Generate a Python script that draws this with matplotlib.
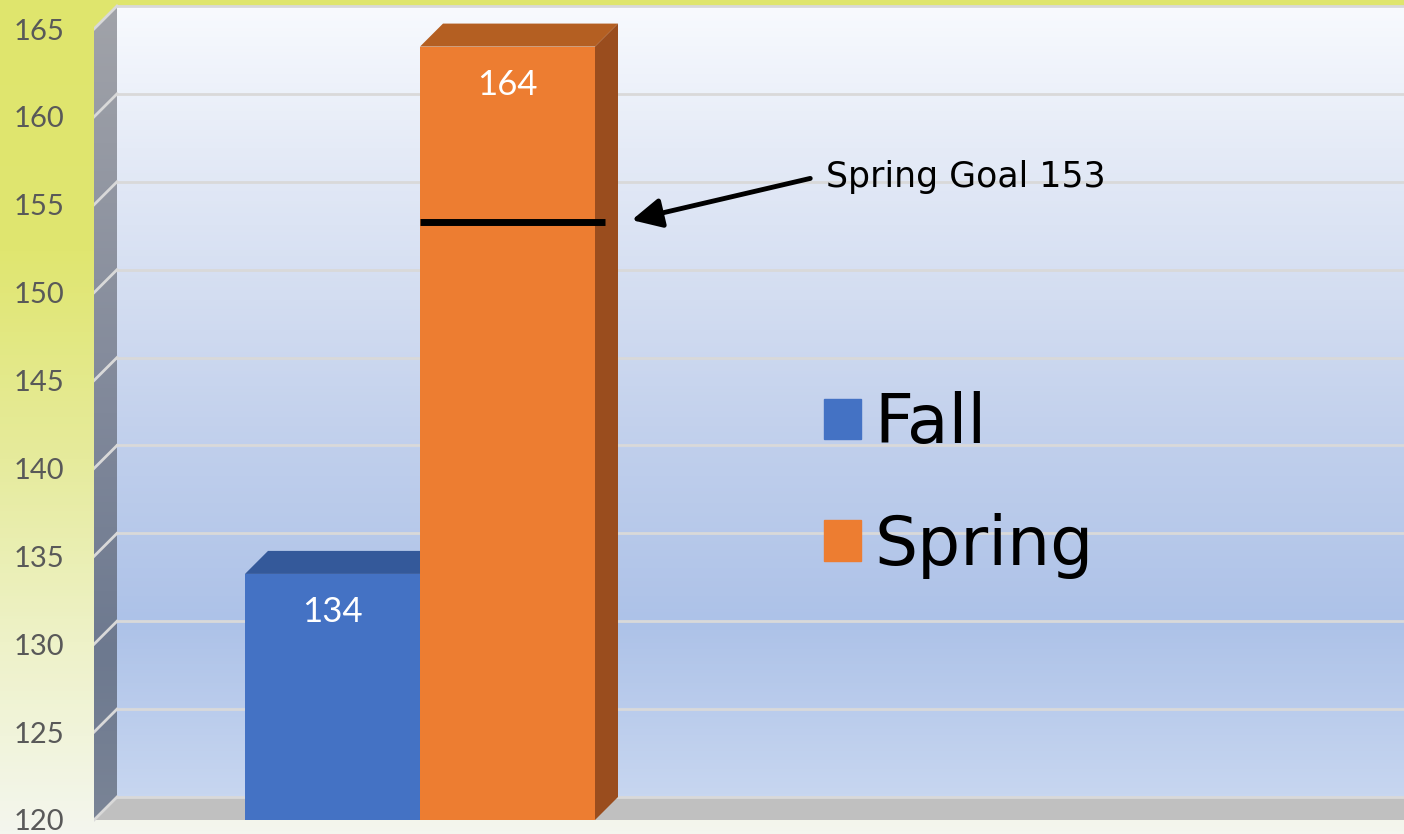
import matplotlib.pyplot as plt
import numpy as np
from matplotlib.colors import LinearSegmentedColormap
from matplotlib.patches import Polygon, Patch

# data
series = ['Fall', 'Spring']
values = [134, 164]
goal = 153
goal_label = 'Spring Goal 153'
yticks = list(range(120, 170, 5))

front_colors = ['#4472C4', '#ED7D31']
top_colors = ['#34599A', '#B45F22']
side_colors = ['#2F4F88', '#9A4D1E']

W, H = 1404, 834
fig = plt.figure(figsize=(W / 100, H / 100), dpi=100)

# фон всей картинки: жёлто-зелёный сверху, почти белый снизу
bg = fig.add_axes([0, 0, 1, 1], zorder=0)
bg_cmap = LinearSegmentedColormap.from_list('bg', [
    (0, '#DFE56D'), (0.3, '#E0E670'), (0.55, '#E6EB9C'),
    (0.77, '#EEF2C8'), (1, '#F4F6EE')])
bg.imshow(np.linspace(0, 1, 256).reshape(-1, 1), aspect='auto', cmap=bg_cmap,
          extent=[0, 1, 0, 1])
bg.set_xlim(0, 1)
bg.set_ylim(0, 1)
bg.axis('off')

# геометрия "3D" в пикселях
left_px, bottom_px, top_px = 94, 820, 29
unit_px = (bottom_px - top_px) / (yticks[-1] - yticks[0])
bar_px = 175
group_px = 420
depth_px = 23

ax = fig.add_axes([left_px / W, 0, 1 - left_px / W, 1], zorder=1)
ax.patch.set_alpha(0)
xmin = (left_px - group_px) / bar_px
xmax = (W - group_px) / bar_px
ax.set_xlim(xmin, xmax)
ax.set_ylim(yticks[0] - (H - bottom_px) / unit_px, yticks[-1] + top_px / unit_px)
DX = depth_px / bar_px
DY = depth_px / unit_px
y0, y1 = yticks[0], yticks[-1]

# задняя стенка
wall_cmap = LinearSegmentedColormap.from_list('wall', [
    (0, '#F8FAFE'), (0.18, '#E5EBF7'), (0.37, '#D3DDF1'),
    (0.56, '#C0CFEC'), (0.78, '#ADC2E8'), (1, '#C7D6F0')])
ax.imshow(np.linspace(0, 1, 256).reshape(-1, 1), aspect='auto', cmap=wall_cmap,
          extent=[xmin + DX, xmax, y0 + DY, y1 + DY], zorder=0)

# боковая стенка
side = Polygon([(xmin, y0), (xmin, y1), (xmin + DX, y1 + DY), (xmin + DX, y0 + DY)],
               facecolor='none', edgecolor='none')
ax.add_patch(side)
side_cmap = LinearSegmentedColormap.from_list('side', [
    (0, '#A1A3A9'), (0.5, '#80889A'), (0.8, '#6D798F'), (1, '#7A8496')])
im = ax.imshow(np.linspace(0, 1, 256).reshape(-1, 1), aspect='auto', cmap=side_cmap,
               extent=[xmin, xmin + DX, y0, y1 + DY], zorder=0.5)
im.set_clip_path(side)

# пол
ax.add_patch(Polygon([(xmin, y0), (xmax, y0), (xmax + DX, y0 + DY), (xmin + DX, y0 + DY)],
                     facecolor='#C0C0C0', edgecolor='none', zorder=1))

# линии сетки
for v in yticks:
    ax.plot([xmin + DX, xmax], [v + DY, v + DY], color='#D9D9D9', lw=2, zorder=1.5)
    ax.plot([xmin, xmin + DX], [v, v + DY], color='#D9D9D9', lw=2, zorder=1.5)

# столбцы
for i, (name, v) in enumerate(zip(series, values)):
    xl = -1 + i
    z = 3 + i
    ax.bar(xl + 0.5, v - y0, bottom=y0, width=1, color=front_colors[i], zorder=z)
    ax.add_patch(Polygon([(xl, v), (xl + 1, v), (xl + 1 + DX, v + DY), (xl + DX, v + DY)],
                         facecolor=top_colors[i], edgecolor='none', zorder=z))
    ax.add_patch(Polygon([(xl + 1, y0), (xl + 1, v), (xl + 1 + DX, v + DY), (xl + 1 + DX, y0 + DY)],
                         facecolor=side_colors[i], edgecolor='none', zorder=z))
    ax.annotate(str(v), xy=(xl + 0.5, v), xytext=(0, -27.5), textcoords='offset points',
                ha='center', va='center', color='white', fontsize=25, family='Lato',
                zorder=10)

# линия цели и стрелка
ax.plot([0, 1 + DX * 0.45], [goal + 0.8 * DY] * 2, color='black', lw=5,
        solid_capstyle='butt', zorder=10)
ax.annotate('', xy=(1.21, 154.13), xytext=(2.23, 156.5),
            arrowprops=dict(arrowstyle='-|>,head_length=0.6,head_width=0.3',
                            mutation_scale=30, lw=3.5, color='black',
                            shrinkA=0, shrinkB=0), zorder=10)
ax.text(2.32, 156.0, goal_label, ha='left', va='baseline', fontsize=25,
        family='DejaVu Sans', color='black', zorder=10)

# легенда
handles = [Patch(color=c) for c in front_colors]
ax.legend(handles, series, loc='upper left', bbox_to_anchor=(824 / W, 1 - 391 / H),
          bbox_transform=fig.transFigure, frameon=False,
          handlelength=0.54, handleheight=0.54, handletextpad=0.2,
          labelspacing=0.82, borderpad=0, borderaxespad=0,
          prop={'family': 'DejaVu Sans', 'size': 49})

ax.set_yticks(yticks)
ax.set_xticks([])
ax.tick_params(axis='y', length=0, pad=21.5, labelsize=21, labelcolor='#595959')
for lbl in ax.get_yticklabels():
    lbl.set_family('Lato')
for s in ax.spines.values():
    s.set_visible(False)

fig.savefig('out.png', dpi=100)
